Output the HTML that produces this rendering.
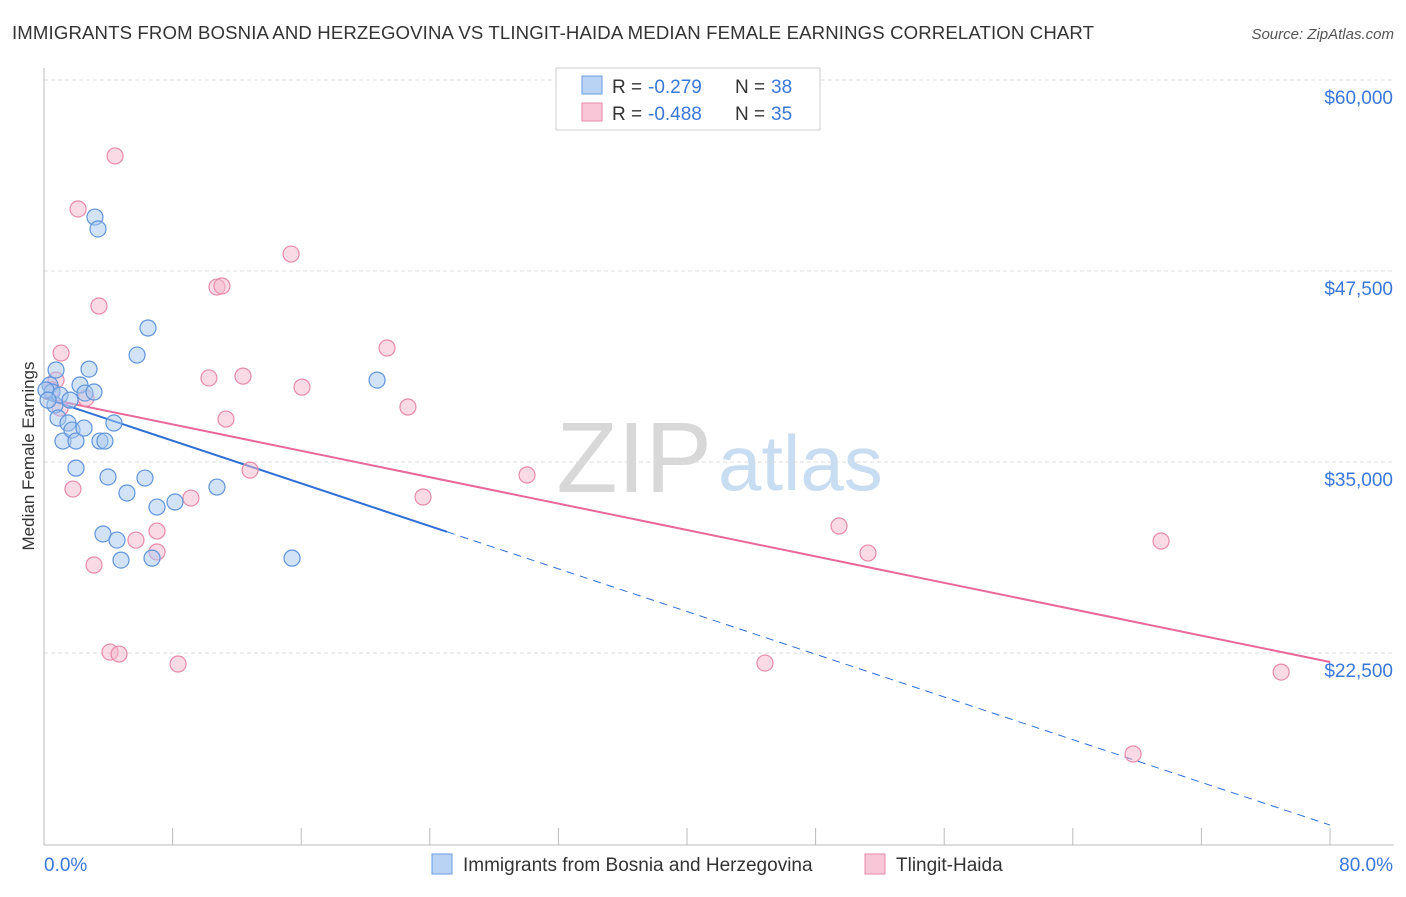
<!DOCTYPE html>
<html><head><meta charset="utf-8"><style>
body{margin:0;background:#fff;font-family:"Liberation Sans",sans-serif;}
svg text{font-family:"Liberation Sans",sans-serif;}
</style></head><body>
<svg id="chart" width="1406" height="892">
<text x="12" y="39" font-size="18.6" fill="#333" textLength="1082">IMMIGRANTS FROM BOSNIA AND HERZEGOVINA VS TLINGIT-HAIDA MEDIAN FEMALE EARNINGS CORRELATION CHART</text>
<text x="1394" y="39" font-size="15" fill="#555" font-style="italic" text-anchor="end">Source: ZipAtlas.com</text>
<text x="712" y="492" font-size="100" fill="#d8d8d8" text-anchor="end" font-family="Liberation Serif">ZIP</text>
<text x="718" y="490" font-size="78" fill="#c8dcf2">atlas</text>
<text transform="translate(34,456) rotate(-90)" font-size="17" fill="#333" text-anchor="middle">Median Female Earnings</text>
<g id="grid"></g><g id="axes"></g><g id="lines"></g><g id="pts"></g>
<g>
<rect x="556" y="68" width="264" height="62" fill="#fff" stroke="#ccc"/>
<rect x="582" y="76" width="20" height="18" fill="#b9d3f5" stroke="#6a9de0"/>
<text x="612" y="93" font-size="19" fill="#333">R =</text>
<text x="648" y="93" font-size="19" fill="#3a78d8">-0.279</text>
<text x="735" y="93" font-size="19" fill="#333">N =</text>
<text x="771" y="93" font-size="19" fill="#3a78d8">38</text>
<rect x="582" y="103" width="20" height="18" fill="#f8c6d6" stroke="#e88aaa"/>
<text x="612" y="120" font-size="19" fill="#333">R =</text>
<text x="648" y="120" font-size="19" fill="#3a78d8">-0.488</text>
<text x="735" y="120" font-size="19" fill="#333">N =</text>
<text x="771" y="120" font-size="19" fill="#3a78d8">35</text>
</g>
<g>
<rect x="432" y="854" width="20" height="20" fill="#b9d3f5" stroke="#6a9de0"/>
<text x="463" y="871" font-size="19" fill="#333">Immigrants from Bosnia and Herzegovina</text>
<rect x="865" y="854" width="20" height="20" fill="#f8c6d6" stroke="#e88aaa"/>
<text x="896" y="871" font-size="19" fill="#333">Tlingit-Haida</text>
</g>
</svg>
<script>
const yTicks=[60000,47500,35000,22500];
const yTickLabels=["$60,000","$47,500","$35,000","$22,500"];
const xTickLabels=["0.0%","80.0%"];
const blueX=[0.75,0.37,0.5,0.68,0.87,1.18,1.49,1.74,1.99,1.99,2.24,2.55,2.8,3.11,3.17,3.36,3.48,3.79,3.98,4.35,3.67,4.54,4.79,5.16,5.79,6.47,6.28,6.72,7.03,8.15,10.76,15.43,20.72,0.12,1.0,1.62,2.49,0.25];
const blueY=[41020,40040,39580,38730,37880,36370,37550,37090,36370,34600,40040,39510,41080,39580,51030,50250,36370,36370,34020,37550,30290,29890,28580,32970,42000,43770,33950,28710,32050,32380,33360,28710,40360,39710,39380,39050,37220,39050];
const pinkX=[4.42,2.12,3.42,1.06,0.75,0.5,1.0,2.61,1.8,3.11,4.11,4.67,5.72,7.03,7.03,8.34,9.14,10.26,10.76,11.07,11.32,12.38,12.82,15.37,16.05,21.34,22.64,23.58,30.05,44.85,49.46,51.26,69.49,76.96,67.75];
const pinkY=[55030,51560,45210,42130,40360,39710,38530,39180,33230,28260,22560,22430,29890,30480,29110,21780,32640,40500,46450,46520,37810,40620,34470,48610,39900,42460,38600,32710,34150,21840,30810,29040,29830,21250,15890];
const blueTrend=[39190,11240];
const pinkTrend=[39190,21910];
const NS="http://www.w3.org/2000/svg";
const X=v=>44+v*1286/80, Y=v=>80+(60000-v)*191/12500;
function mk(t,a,p){const e=document.createElementNS(NS,t);for(const k in a)e.setAttribute(k,a[k]);document.getElementById(p).appendChild(e);return e;}
yTicks.forEach((t,i)=>{
 const g=mk('line',{x1:44,x2:1394,y1:Y(t),y2:Y(t),stroke:'#ddd','stroke-dasharray':'4,3'},'grid');
 
 
 const l=mk('text',{x:1393,y:Y(t)+24,'font-size':19,fill:'#3a78d8','text-anchor':'end'},'axes');l.textContent=yTickLabels[i];
 
 
});
mk('line',{x1:44,x2:44,y1:68,y2:845,stroke:'#bbb'},'axes');
mk('line',{x1:44,x2:1394,y1:845,y2:845,stroke:'#bbb'},'axes');
for(let i=0;i<=10;i++){const t=mk('line',{x1:X(i*8),x2:X(i*8),y1:828,y2:845,stroke:'#bbb'},'axes');
 
 }
[[0,'start'],[80,'end']].forEach((d,i)=>{const l=mk('text',{x:i?1393:44,y:871,'font-size':19,fill:'#3a78d8','text-anchor':d[1]},'axes');l.textContent=xTickLabels[i];
 
 });
function pts(xs,ys,fill,stroke,name){xs.forEach((x,i)=>{const c=mk('circle',{cx:X(x),cy:Y(ys[i]),r:8,fill:fill,'fill-opacity':0.5,stroke:stroke,'stroke-width':1.2},'pts');
 
 });}
pts(pinkX,pinkY,'#f5b8cc','#e88aaa','tlingit-point');
pts(blueX,blueY,'#a8c8f0','#5f95dc','bosnia-point');
const bAt=x=>blueTrend[0]+(blueTrend[1]-blueTrend[0])*x/80;
let l1=mk('line',{x1:X(0),y1:Y(bAt(0)),x2:X(25.07),y2:Y(bAt(25.07)),stroke:'#2f6fd6','stroke-width':2},'lines');


let l2=mk('line',{x1:X(25.07),y1:Y(bAt(25.07)),x2:X(80),y2:Y(bAt(80)),stroke:'#2f6fd6','stroke-width':1,'stroke-dasharray':'8,6'},'lines');


let l3=mk('line',{x1:X(0),y1:Y(pinkTrend[0]),x2:X(80),y2:Y(pinkTrend[1]),stroke:'#e8689a','stroke-width':2},'lines');


</script>
</body></html>
